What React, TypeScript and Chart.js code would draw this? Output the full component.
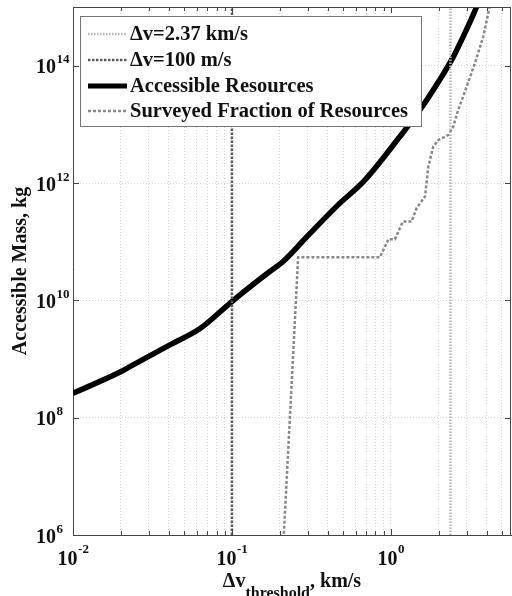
import React, { useEffect, useRef } from "react";
import { Chart, registerables } from "chart.js";

Chart.register(...registerables);

// ---- data ----
const accessibleDv = [0.01, 0.0198, 0.0228, 0.0407, 0.063, 0.097, 0.112, 0.173, 0.21, 0.295, 0.455, 0.686, 1.14, 1.52, 2.03, 2.47, 2.99, 3.46, 3.7];
const accessibleMass = [2.6e8, 6.0e8, 7.4e8, 1.74e9, 3.3e9, 8.9e9, 1.23e10, 3.1e10, 4.6e10, 1.2e11, 4.0e11, 1.12e12, 6.2e12, 1.74e13, 5.75e13, 1.41e14, 4.1e14, 1.0e15, 1.6e15];

const surveyedDv = [0.203, 0.261, 0.853, 0.964, 1.06, 1.19, 1.35, 1.45, 1.64, 1.72, 1.85, 1.99, 2.3, 2.47, 2.65, 3.0, 3.38, 3.81, 4.1, 4.25];
const surveyedMass = [1e5, 5.4e10, 5.4e10, 1.1e11, 1.1e11, 2.2e11, 2.2e11, 3.7e11, 5.9e11, 1.9e12, 4.2e12, 5.4e12, 6.6e12, 9.1e12, 1.74e13, 4.4e13, 1.1e14, 3.1e14, 7.8e14, 1.26e15];

const thresholdHigh = 2.37; // km/s
const thresholdLow = 0.1; // km/s (100 m/s)

const dvRange = [0.01, 5.7];
const massRange = [1e6, 1e15];

const xMajorTicks = [0.01, 0.1, 1];
const xTickExponents = ["-2", "-1", "0"];
const xMinorMultipliers = [1, 2, 3, 4, 5, 6, 7, 8, 9];
const yMajorTicks = [1e6, 1e8, 1e10, 1e12, 1e14];
const yTickExponents = ["6", "8", "10", "12", "14"];

const seriesLabels = ["Δv=2.37 km/s", "Δv=100 m/s", "Accessible Resources", "Surveyed Fraction of Resources"];
const yTitle = "Accessible Mass, kg";
const xTitleMain = "Δv";
const xTitleSub = "threshold";
const xTitleTail = ", km/s";

const FONT = "'Liberation Serif', 'Times New Roman', Times, serif";

function xTickValues(): number[] {
  const out: number[] = [];
  for (const d of xMajorTicks) {
    for (const m of xMinorMultipliers) {
      const v = +(d * m).toPrecision(6);
      if (v >= dvRange[0] - 1e-12 && v <= dvRange[1]) out.push(v);
    }
  }
  return out;
}

const decorPlugin = {
  id: "decor",
  afterDraw(chart: any) {
    const { ctx, chartArea: a, scales } = chart;
    const xs = scales.x;
    const ys = scales.y;
    ctx.save();

    // top & right box edges
    ctx.strokeStyle = "#444";
    ctx.lineWidth = 1;
    ctx.setLineDash([]);
    ctx.beginPath();
    ctx.moveTo(a.left, Math.round(a.top) + 0.5);
    ctx.lineTo(a.right, Math.round(a.top) + 0.5);
    ctx.moveTo(Math.round(a.right) - 0.5, a.top);
    ctx.lineTo(Math.round(a.right) - 0.5, a.bottom);
    ctx.stroke();

    // inward tick marks
    ctx.beginPath();
    for (const v of xTickValues()) {
      const px = Math.round(xs.getPixelForValue(v)) + 0.5;
      const major = xMajorTicks.some((m) => Math.abs(m - v) < 1e-9);
      const len = major ? 6 : 4;
      ctx.moveTo(px, a.bottom);
      ctx.lineTo(px, a.bottom - len);
      ctx.moveTo(px, a.top);
      ctx.lineTo(px, a.top + len);
    }
    for (const v of yMajorTicks) {
      const py = Math.round(ys.getPixelForValue(v)) + 0.5;
      ctx.moveTo(a.left, py);
      ctx.lineTo(a.left + 6, py);
      ctx.moveTo(a.right, py);
      ctx.lineTo(a.right - 6, py);
    }
    ctx.stroke();

    // tick labels
    ctx.fillStyle = "#111";
    ctx.textBaseline = "alphabetic";
    ctx.textAlign = "left";
    const baseFont = `bold 20px ${FONT}`;
    const expFont = `bold 13px ${FONT}`;
    xMajorTicks.forEach((v, i) => {
      const px = xs.getPixelForValue(v);
      ctx.font = baseFont;
      const wb = ctx.measureText("10").width;
      ctx.font = expFont;
      const we = ctx.measureText(xTickExponents[i]).width;
      const x0 = px - (wb + we) / 2;
      ctx.font = baseFont;
      ctx.fillText("10", x0, 565);
      ctx.font = expFont;
      ctx.fillText(xTickExponents[i], x0 + wb + 0.5, 553);
    });
    yMajorTicks.forEach((v, i) => {
      const py = ys.getPixelForValue(v);
      ctx.font = baseFont;
      const wb = ctx.measureText("10").width;
      const x0 = 36;
      ctx.fillText("10", x0, py + 7.5);
      ctx.font = expFont;
      ctx.fillText(yTickExponents[i], x0 + wb + 0.5, py - 2.5);
    });

    // y title
    ctx.save();
    ctx.translate(21, (a.top + a.bottom) / 2);
    ctx.rotate(-Math.PI / 2);
    ctx.font = baseFont;
    ctx.textAlign = "center";
    ctx.textBaseline = "middle";
    ctx.fillText(yTitle, 0, 0);
    ctx.restore();

    // x title with subscript
    ctx.textAlign = "left";
    ctx.textBaseline = "alphabetic";
    const subFont = `bold 16px ${FONT}`;
    ctx.font = baseFont;
    const w1 = ctx.measureText(xTitleMain).width;
    const w3 = ctx.measureText(xTitleTail).width;
    ctx.font = subFont;
    const w2 = ctx.measureText(xTitleSub).width;
    let tx = (a.left + a.right) / 2 - (w1 + w2 + w3) / 2;
    ctx.font = baseFont;
    ctx.fillText(xTitleMain, tx, 587);
    tx += w1;
    ctx.font = subFont;
    ctx.fillText(xTitleSub, tx, 598);
    tx += w2;
    ctx.font = baseFont;
    ctx.fillText(xTitleTail, tx, 587);

    // legend
    const lx = 80.5, ly = 16.5, lw = 341, lh = 110;
    ctx.fillStyle = "#fff";
    ctx.fillRect(lx, ly, lw, lh);
    ctx.strokeStyle = "#777";
    ctx.lineWidth = 1;
    ctx.strokeRect(lx, ly, lw, lh);
    const rowY = [34, 60, 86, 111];
    chart.data.datasets.forEach((ds: any, i: number) => {
      const yy = rowY[i];
      ctx.save();
      ctx.strokeStyle = ds.borderColor;
      ctx.lineWidth = Math.min(ds.borderWidth, 5);
      ctx.setLineDash(ds.borderDash || []);
      ctx.beginPath();
      ctx.moveTo(88, yy);
      ctx.lineTo(127, yy);
      ctx.stroke();
      ctx.restore();
      ctx.fillStyle = "#111";
      ctx.font = `bold 20.5px ${FONT}`;
      ctx.textBaseline = "middle";
      ctx.fillText(seriesLabels[i], 130, yy + 1);
    });

    ctx.restore();
  },
};

export default function App() {
  const ref = useRef<HTMLCanvasElement | null>(null);

  useEffect(() => {
    if (!ref.current) return;
    const chart = new Chart(ref.current, {
      type: "line",
      data: {
        datasets: [
          {
            label: seriesLabels[0],
            data: [
              { x: thresholdHigh, y: massRange[0] },
              { x: thresholdHigh, y: massRange[1] },
            ],
            borderColor: "#b4b4b4",
            borderWidth: 2.5,
            borderDash: [1.5, 1.5],
            pointRadius: 0,
            clip: 0,
          },
          {
            label: seriesLabels[1],
            data: [
              { x: thresholdLow, y: massRange[0] },
              { x: thresholdLow, y: massRange[1] },
            ],
            borderColor: "#5a5a5a",
            borderWidth: 2.5,
            borderDash: [2.5, 1.5],
            pointRadius: 0,
            clip: 0,
          },
          {
            label: seriesLabels[2],
            data: accessibleDv.map((x, i) => ({ x, y: accessibleMass[i] })),
            borderColor: "#000",
            borderWidth: 5.5,
            pointRadius: 0,
            cubicInterpolationMode: "monotone",
            clip: 0,
          },
          {
            label: seriesLabels[3],
            data: surveyedDv.map((x, i) => ({ x, y: surveyedMass[i] })),
            borderColor: "#888",
            borderWidth: 2.5,
            borderDash: [3, 2],
            pointRadius: 0,
            tension: 0,
            clip: 0,
          },
        ] as any,
      },
      options: {
        responsive: false,
        animation: false,
        devicePixelRatio: 1,
        layout: { padding: { left: 73, right: 1, top: 7, bottom: 61 } },
        plugins: {
          legend: { display: false },
          tooltip: { enabled: false },
          title: { display: false },
        },
        scales: {
          x: {
            type: "logarithmic",
            min: dvRange[0],
            max: dvRange[1],
            afterBuildTicks: (scale: any) => {
              scale.ticks = xTickValues().map((value) => ({ value }));
            },
            ticks: { display: false },
            grid: { color: "#d4d4d4", lineWidth: 1, drawTicks: false },
            border: { display: true, color: "#444", width: 1, dash: [1, 2] },
          },
          y: {
            type: "logarithmic",
            min: massRange[0],
            max: massRange[1],
            afterBuildTicks: (scale: any) => {
              scale.ticks = yMajorTicks.map((value) => ({ value }));
            },
            ticks: { display: false },
            grid: { color: "#d4d4d4", lineWidth: 1, drawTicks: false },
            border: { display: true, color: "#444", width: 1, dash: [1, 2] },
          },
        },
      } as any,
      plugins: [decorPlugin],
    });
    return () => chart.destroy();
  }, []);

  return (
    <div style={{ position: "fixed", left: 0, top: 0, width: 512, height: 596, background: "#fff" }}>
      <canvas ref={ref} width={512} height={596} style={{ display: "block" }} />
    </div>
  );
}
